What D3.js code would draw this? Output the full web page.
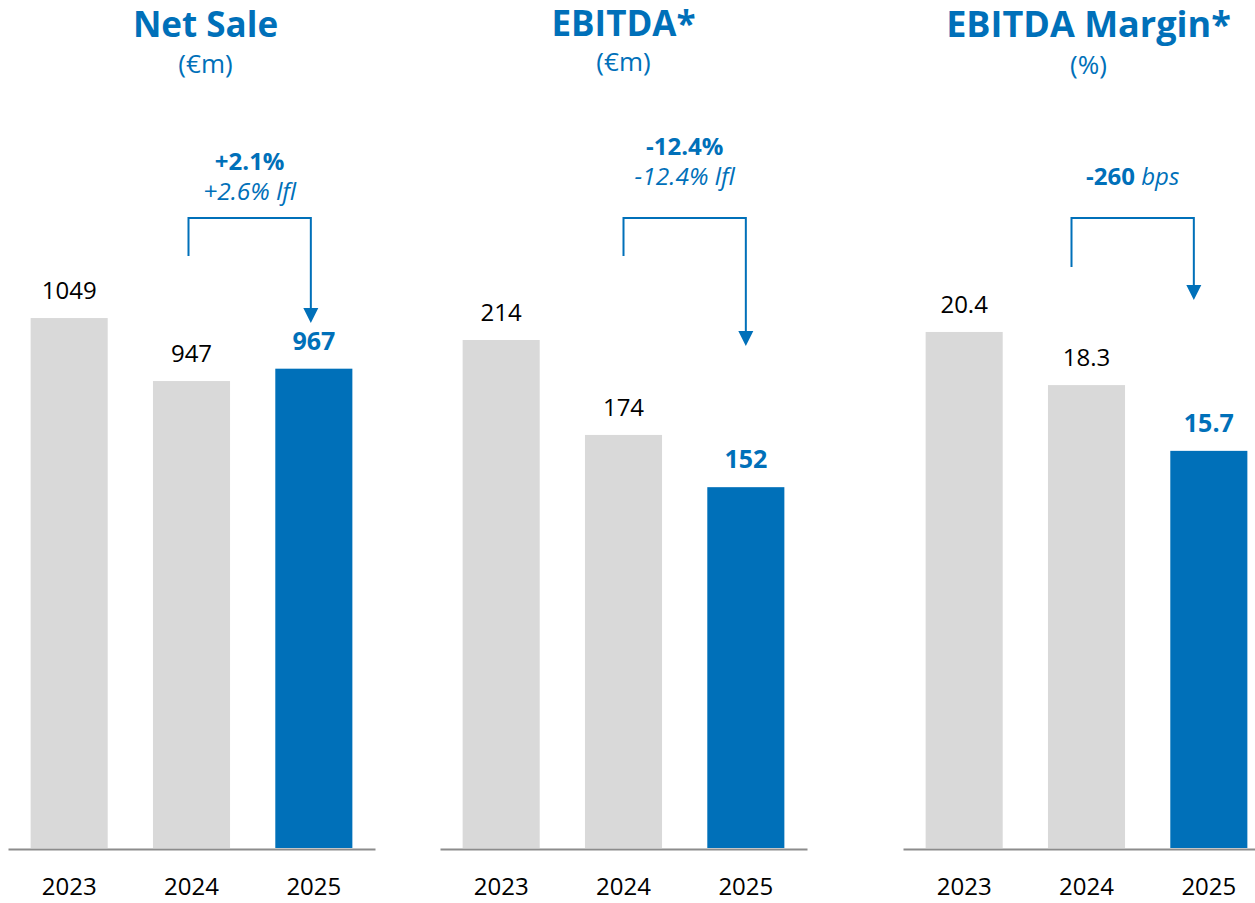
<!DOCTYPE html>
<html>
<head>
<meta charset="utf-8">
<script src="https://cdn.jsdelivr.net/npm/d3@7"></script>
<style>
  html, body { margin: 0; padding: 0; background: #fff; }
  svg text { font-family: "Open Sans", "Noto Sans", sans-serif; }
</style>
</head>
<body>
<svg id="chart" width="1255" height="903"></svg>
<script>
// data
const years = ["2023", "2024", "2025"];
const netSale = [1049, 947, 967];
const ebitda = [214, 174, 152];
const ebitdaMargin = [20.4, 18.3, 15.7];

const titles = ["Net Sale", "EBITDA*", "EBITDA Margin*"];
const units = ["(€m)", "(€m)", "(%)"];
const changeMain = ["+2.1%", "-12.4%", "-260"];
const changeSub = ["+2.6% lfl", "-12.4% lfl", ""];
const valueFormats = [d3.format("d"), d3.format("d"), d3.format(".1f")];

// layout per panel (net sale axis is not zero based in the original)
const panels = [
    { values: netSale,      x0: 8,   domain: [191, 1402],  titleDx: 14, titleSize: 35, titleY: 37, unitY: 73, noteY: 170, arrowDx: -3, leftEnd: 256, arrowEnd: 323 },
    { values: ebitda,       x0: 440, domain: [0, 315.1],   titleDx: 0,  titleSize: 35, titleY: 36, unitY: 71, noteY: 155, arrowDx: 0,  leftEnd: 256, arrowEnd: 346 },
    { values: ebitdaMargin, x0: 903, domain: [0, 29.57],   titleDx: 2,  titleSize: 36, titleY: 37, unitY: 74, noteY: 185, arrowDx: -15, leftEnd: 267, arrowEnd: 300 }
];

const blue = "#0070b9";
const grey = "#d9d9d9";
const baseY = 848;
const topY = 100;
const panelW = 367;
const bracketY = 218;

const svg = d3.select("#chart");

panels.forEach((p, i) => {
    const g = svg.append("g");

    const x = d3.scaleBand()
        .domain(years)
        .range([p.x0, p.x0 + panelW])
        .paddingInner(0.37)
        .paddingOuter(0.185);

    const y = d3.scaleLinear()
        .domain(p.domain)
        .range([baseY, topY]);

    const rows = years.map((yr, j) => ({ year: yr, value: p.values[j], last: j === years.length - 1 }));

    g.selectAll("rect.bar")
        .data(rows)
        .enter()
        .append("rect")
        .attr("class", "bar")
        .attr("x", d => x(d.year))
        .attr("width", x.bandwidth())
        .attr("y", d => y(d.value))
        .attr("height", d => baseY - y(d.value))
        .attr("fill", d => d.last ? blue : grey);

    g.selectAll("text.val")
        .data(rows)
        .enter()
        .append("text")
        .attr("class", "val")
        .attr("x", d => x(d.year) + x.bandwidth() / 2)
        .attr("y", d => y(d.value) - 19)
        .attr("text-anchor", "middle")
        .style("font-size", d => d.last ? "25px" : "24px")
        .style("font-weight", d => d.last ? 700 : 400)
        .style("fill", d => d.last ? blue : "#000")
        .text(d => valueFormats[i](d.value));

    // axis: domain line + year labels
    const axis = g.append("g")
        .attr("transform", `translate(0,${baseY + 1})`)
        .call(d3.axisBottom(x).tickSize(0).tickSizeOuter(0).tickPadding(29));
    axis.select(".domain").attr("stroke", "#8c8c8c").attr("stroke-width", 2);
    axis.selectAll("text")
        .style("font-family", "\"Open Sans\", \"Noto Sans\", sans-serif")
        .style("font-size", "24px")
        .attr("fill", "#000");

    // titles
    const cx = p.x0 + panelW / 2 + p.titleDx;
    g.append("text")
        .attr("x", cx)
        .attr("y", p.titleY)
        .attr("text-anchor", "middle")
        .style("font-size", p.titleSize + "px")
        .style("font-weight", 700)
        .style("fill", blue)
        .text(titles[i]);
    g.append("text")
        .attr("x", cx)
        .attr("y", p.unitY)
        .attr("text-anchor", "middle")
        .style("font-size", "26px")
        .style("fill", blue)
        .text(units[i]);

    // change bracket + arrow
    const xl = x(years[1]) + x.bandwidth() / 2 + p.arrowDx;
    const xr = x(years[2]) + x.bandwidth() / 2 + p.arrowDx;
    const head = 15;
    g.append("path")
        .attr("d", `M${xl},${p.leftEnd} V${bracketY} H${xr} V${p.arrowEnd - head + 1}`)
        .attr("fill", "none")
        .attr("stroke", blue)
        .attr("stroke-width", 2);
    g.append("path")
        .attr("d", `M${xr - 7.5},${p.arrowEnd - head} L${xr + 7.5},${p.arrowEnd - head} L${xr},${p.arrowEnd} Z`)
        .attr("fill", blue);

    const nx = (xl + xr) / 2;
    const note = g.append("text")
        .attr("x", nx)
        .attr("y", p.noteY)
        .attr("text-anchor", "middle")
        .style("font-size", "24px")
        .style("fill", blue);
    note.append("tspan").style("font-weight", 700).text(changeMain[i]);
    if (i === 2) {
        note.append("tspan").style("font-style", "italic").text(" bps");
    }
    if (changeSub[i]) {
        g.append("text")
            .attr("x", nx)
            .attr("y", p.noteY + 30)
            .attr("text-anchor", "middle")
            .style("font-size", "24.5px")
            .style("font-style", "italic")
            .style("fill", blue)
            .text(changeSub[i]);
    }
});
</script>
</body>
</html>
